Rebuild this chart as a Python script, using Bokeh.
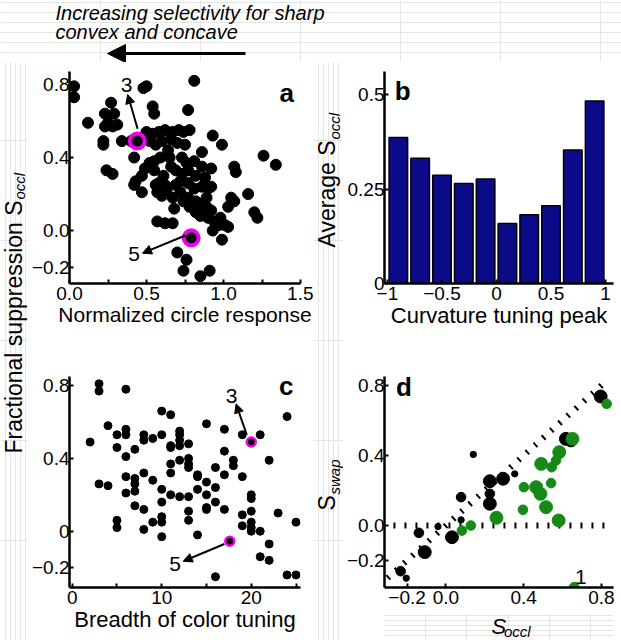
import math
from bokeh.plotting import figure
from bokeh.layouts import row, column
from bokeh.models import Range1d, FixedTicker, Label, Arrow, NormalHead, CustomJSTickFormatter
from bokeh.embed import file_html
from bokeh.resources import INLINE

FONT = "Liberation Sans"
NAVY = "#0b0b8a"
GREEN = "#168a16"
MAGENTA = "#ee00ee"

# ---------------- data ----------------
# panel a: normalized circle response vs S_occl
a_resp = [0.03, 0.03, 0.48, 0.50, 0.81, 0.12, 0.27, 0.23, 0.29, 0.25, 0.31, 0.28, 0.23,
          0.54, 0.55, 0.77, 0.22, 0.22, 0.34, 0.40, 0.50, 0.54, 0.58, 0.62, 0.67, 0.71,
          0.74, 0.78, 0.52, 0.56, 0.60, 0.66, 0.70, 0.75, 0.93, 0.99, 0.42, 0.24, 0.28,
          0.49, 0.47, 0.43, 0.42, 0.52, 0.55, 0.59, 0.65, 0.73, 0.76, 0.81, 0.86, 0.69,
          0.73, 0.77, 0.82, 0.72, 0.92, 1.07, 1.08, 1.26, 1.34, 0.61, 0.58, 0.62, 0.47,
          0.56, 0.57, 0.60, 0.63, 0.67, 0.69, 0.72, 0.74, 0.77, 0.78, 0.84, 0.77, 0.81,
          0.86, 0.90, 0.89, 0.92, 0.82, 0.86, 0.89, 0.92, 0.82, 0.85, 1.05, 1.07, 1.03,
          1.16, 1.20, 1.22, 0.57, 0.62, 0.67, 0.90, 0.94, 0.97, 0.93, 0.99, 0.98, 1.01,
          1.03, 0.70, 0.76, 0.74, 0.85, 0.91, 0.66, 0.55, 0.88, 0.86, 0.64, 0.68]
a_socc = [0.79, 0.73, 0.78, 0.79, 0.82, 0.59, 0.70, 0.64, 0.64, 0.59, 0.58, 0.57, 0.57,
          0.68, 0.64, 0.66, 0.49, 0.47, 0.49, 0.49, 0.54, 0.53, 0.54, 0.55, 0.54, 0.55,
          0.54, 0.55, 0.49, 0.47, 0.49, 0.50, 0.48, 0.47, 0.52, 0.47, 0.40, 0.33, 0.31,
          0.34, 0.30, 0.27, 0.25, 0.37, 0.38, 0.40, 0.40, 0.40, 0.37, 0.38, 0.43, 0.33,
          0.31, 0.33, 0.30, 0.27, 0.34, 0.35, 0.32, 0.41, 0.36, 0.30, 0.26, 0.25, 0.21,
          0.25, 0.21, 0.19, 0.22, 0.18, 0.25, 0.21, 0.16, 0.18, 0.13, 0.09, 0.26, 0.23,
          0.24, 0.23, 0.18, 0.24, 0.16, 0.14, 0.13, 0.11, 0.10, 0.08, 0.18, 0.16, 0.13,
          0.20, 0.10, 0.07, 0.05, 0.04, 0.04, 0.07, 0.05, 0.03, 0.00, -0.05, 0.07, 0.03,
          0.02, -0.12, -0.16, -0.22, -0.25, -0.22, 0.35, 0.33, 0.29, 0.35, 0.44, 0.12]
a_marked_resp = [0.44, 0.79]
a_marked_socc = [0.49, -0.04]
marked_ids = ["3", "5"]

# panel b: average S_occl per curvature-peak bin
b_bin_centers = [-0.9, -0.7, -0.5, -0.3, -0.1, 0.1, 0.3, 0.5, 0.7, 0.9]
b_avg_socc = [0.387, 0.332, 0.287, 0.265, 0.277, 0.159, 0.182, 0.206, 0.354, 0.484]

# panel c: breadth of color tuning vs S_occl
c_breadth = [2, 3, 3, 3, 4, 6, 4, 5, 5, 6, 6, 6, 7, 6, 6, 7, 7, 7, 7, 5, 5, 8, 8, 9, 8,
             8, 8, 9, 9, 10, 11, 10, 10, 10, 10, 10, 10, 11, 11, 11, 11, 11, 12, 12, 12,
             12, 12, 13, 13, 13, 13, 13, 13, 13, 14, 14, 14, 14, 15, 15, 15, 15, 16, 16,
             16, 16, 17, 17, 17, 17, 18, 18, 19, 19, 19, 20, 20, 20, 20, 20, 20, 19, 21,
             21, 22, 22, 21, 22, 23, 24, 25, 24, 25, 15, 12]
c_socc = [0.49, 0.81, 0.77, 0.26, 0.25, 0.78, 0.58, 0.53, 0.46, 0.56, 0.53, 0.41, 0.45,
          0.30, 0.21, 0.29, 0.26, 0.22, 0.14, 0.06, 0.02, 0.53, 0.50, 0.51, 0.32, 0.12,
          0.01, 0.28, 0.05, 0.66, 0.64, 0.53, 0.23, 0.16, 0.08, 0.05, -0.03, 0.47, 0.46,
          0.37, 0.32, 0.20, 0.53, 0.50, 0.47, 0.39, 0.19, 0.48, 0.40, 0.37, 0.35, 0.19,
          0.11, 0.06, 0.31, 0.30, 0.23, -0.02, 0.59, 0.27, 0.20, 0.12, 0.35, 0.24, 0.16,
          -0.25, 0.56, 0.44, 0.31, 0.12, 0.39, 0.36, 0.30, 0.09, 0.03, 0.20, 0.18, 0.11,
          0.05, 0.02, 0.00, 0.53, 0.53, 0.00, 0.39, -0.07, -0.14, -0.16, 0.10, 0.63, 0.05,
          -0.24, -0.24, 0.13, 0.55]
c_marked_breadth = [20, 17.6]
c_marked_socc = [0.49, -0.055]

# panel d: S_occl vs S_swap (size class 1 small .. 3 large)
d_black_occl = [0.796, 0.617, 0.643, 0.141, 0.226, 0.294, 0.354, 0.078, 0.226, 0.226,
                0.078, -0.041, -0.139, 0.031, -0.109, -0.233, -0.204]
d_black_swap = [0.737, 0.495, 0.486, 0.406, 0.253, 0.267, 0.295, 0.162, 0.181, 0.124,
                0.032, -0.006, -0.042, -0.067, -0.152, -0.261, -0.301]
d_black_cls = [3, 3, 3, 1, 3, 3, 1, 2, 2, 3, 1, 1, 2, 3, 3, 2, 1]
d_green_occl = [0.827, 0.651, 0.583, 0.566, 0.544, 0.490, 0.401, 0.464, 0.486, 0.541,
                0.515, 0.396, 0.580, 0.260, 0.128, 0.082, 0.660]
d_green_swap = [0.695, 0.495, 0.419, 0.371, 0.333, 0.352, 0.219, 0.219, 0.181, 0.242,
                0.105, 0.090, 0.029, 0.044, 0.000, -0.029, -0.352]
d_green_cls = [2, 3, 3, 2, 2, 3, 2, 3, 3, 2, 3, 2, 3, 3, 2, 2, 2]
d_diag = [-0.30, 0.83]
d_zero_x = [-0.27, 0.86]
d_zero_y = [0.0, 0.0]

# ---------------- helpers ----------------
fixed1 = CustomJSTickFormatter(code="return tick.toFixed(1).replace('-', '\u2212');")
plain = CustomJSTickFormatter(code="const v = Math.round(tick*100)/100; return String(v).replace('-', '\u2212');")


def panel(width, height, xr, yr, borders):
    p = figure(width=width, height=height, x_range=Range1d(*xr), y_range=Range1d(*yr),
               output_backend="svg", toolbar_location=None, title=None,
               min_border_left=borders[0], min_border_right=borders[1],
               min_border_top=borders[2], min_border_bottom=borders[3])
    p.outline_line_color = None
    p.xgrid.visible = False
    p.ygrid.visible = False
    for ax in p.axis:
        ax.axis_line_width = 2.5
        ax.axis_line_color = "black"
        ax.major_tick_in = 4
        ax.major_tick_out = 0
        ax.major_tick_line_width = 2
        ax.minor_tick_in = 4
        ax.minor_tick_out = 0
        ax.minor_tick_line_width = 2
        ax.major_label_text_font = FONT
        ax.major_label_text_font_size = "19px"
        ax.major_label_text_color = "black"
        ax.axis_label_text_font = FONT
        ax.axis_label_text_font_style = "normal"
        ax.axis_label_text_font_size = "22px"
        ax.axis_label_text_color = "black"
        ax.axis_label_standoff = 0
    p.xaxis.major_label_standoff = 3
    p.yaxis.major_label_standoff = 0
    return p


def blank(width, height):
    p = figure(width=width, height=height, x_range=Range1d(0, width), y_range=Range1d(0, height),
               output_backend="svg", toolbar_location=None, title=None, min_border=0,
               x_axis_location=None, y_axis_location=None)
    p.outline_line_color = None
    return p


def text(p, x, y, s, size="21px", style="normal", align="center", angle=0.0):
    p.add_layout(Label(x=x, y=y, text=s, text_font=FONT, text_font_size=size,
                       text_font_style=style, text_align=align, text_baseline="middle",
                       angle=angle, text_color="black"))


def arrow(p, xs, ys, xe, ye, size=9, width=2):
    p.add_layout(Arrow(end=NormalHead(size=size, fill_color="black", line_color="black", line_width=1),
                       x_start=xs, y_start=ys, x_end=xe, y_end=ye, line_width=width, line_color="black"))


UP = math.pi / 2

# ---------------- top strip (y 0..62) ----------------
top = blank(621, 62)
text(top, 55, 50, "Increasing selectivity for sharp", size="20px", style="italic", align="left")
text(top, 55, 31, "convex and concave", size="20px", style="italic", align="left")
top.add_layout(Arrow(end=NormalHead(size=18, fill_color="black", line_color="black"),
                     x_start=245, y_start=9, x_end=107, y_end=9, line_width=3, line_color="black"))

# ---------------- shared y label (x 0..28, y 62..640) ----------------
lab = blank(28, 578)
text(lab, 13, 187, "Fractional suppression S", size="23px", align="left", angle=UP)
text(lab, 19, 441, "occl", size="15px", style="italic", align="left", angle=UP)

# ---------------- panel a (x 28..313, y 62..340) ----------------
pa = panel(285, 278, (0.0, 1.5), (-0.290, 0.871), (38, 13, 9, 57))
pa.xaxis.ticker = FixedTicker(ticks=[0, 0.5, 1.0, 1.5], minor_ticks=[0.25, 0.75, 1.25])
pa.yaxis.ticker = FixedTicker(ticks=[-0.2, 0.0, 0.4, 0.8], minor_ticks=[])
pa.xaxis.formatter = fixed1
pa.yaxis.formatter = fixed1
pa.xaxis.axis_label = "Normalized circle response"
pa.xaxis.axis_label_text_font_size = "21px"
pa.scatter(a_resp, a_socc, size=11, fill_color="black", line_color="black")
pa.scatter(a_marked_resp, a_marked_socc, size=15, fill_color="black",
           line_color=MAGENTA, line_width=4)
arrow(pa, 0.442, 0.557, 0.378, 0.745)
text(pa, 0.37, 0.795, marked_ids[0])
arrow(pa, 0.752, -0.027, 0.474, -0.124)
text(pa, 0.42, -0.128, marked_ids[1])
text(pa, 1.41, 0.754, "a", size="26px", style="bold")

# ---------------- panel c (x 28..313, y 340..640) ----------------
pc = panel(285, 300, (-0.3, 25.5), (-0.309, 0.85), (38, 13, 36, 53))
pc.xaxis.ticker = FixedTicker(ticks=[0, 10, 20], minor_ticks=[5, 15, 25])
pc.yaxis.ticker = FixedTicker(ticks=[-0.2, 0.0, 0.4, 0.8], minor_ticks=[])
pc.xaxis.formatter = plain
pc.yaxis.formatter = plain
pc.xaxis.axis_label = "Breadth of color tuning"
pc.scatter(c_breadth, c_socc, size=8, fill_color="black", line_color="black")
pc.scatter(c_marked_breadth, c_marked_socc, size=9, fill_color="black",
           line_color=MAGENTA, line_width=2.5)
arrow(pc, 19.5, 0.53, 18.3, 0.70)
text(pc, 17.8, 0.745, marked_ids[0])
arrow(pc, 17.0, -0.07, 12.4, -0.165)
text(pc, 11.5, -0.178, marked_ids[1])
text(pc, 23.9, 0.80, "c", size="26px", style="bold")

# ---------------- y labels of b and d (x 313..343, y 62..640) ----------------
mid = blank(30, 578)
text(mid, 13, 393, "Average S", size="23px", align="left", angle=UP)
text(mid, 21, 501, "occl", size="15px", style="italic", align="left", angle=UP)
text(mid, 13, 130, "S", size="23px", align="left", angle=UP)
text(mid, 21, 146, "swap", size="15px", style="italic", align="left", angle=UP)

# ---------------- panel b (x 343..621, y 62..340) ----------------
pb = panel(278, 278, (-1.027, 1.073), (0.0, 0.562), (39, 8, 9, 57))
pb.xaxis.ticker = FixedTicker(ticks=[-1, -0.5, 0, 0.5, 1], minor_ticks=[])
pb.yaxis.ticker = FixedTicker(ticks=[0, 0.25, 0.5], minor_ticks=[])
pb.xaxis.formatter = plain
pb.yaxis.formatter = plain
pb.xaxis.axis_label = "Curvature tuning peak"
pb.vbar(x=b_bin_centers, top=b_avg_socc, width=0.17, bottom=0,
        fill_color=NAVY, line_color="black", line_width=1.5)
text(pb, -0.86, 0.51, "b", size="26px", style="bold")

# ---------------- panel d (x 343..621, y 340..613) ----------------
pd_ = panel(278, 273, (-0.316, 0.862), (-0.354, 0.851), (39, 8, 36, 26))
pd_.xaxis.ticker = FixedTicker(ticks=[-0.2, 0.0, 0.4, 0.8], minor_ticks=[])
pd_.yaxis.ticker = FixedTicker(ticks=[-0.2, 0.0, 0.4, 0.8], minor_ticks=[])
pd_.xaxis.formatter = fixed1
pd_.yaxis.formatter = fixed1
pd_.line(d_diag, d_diag, line_color="black", line_width=6, line_dash="2 9")
pd_.line(d_zero_x, d_zero_y, line_color="black", line_width=6, line_dash="2 9")
pd_.scatter(d_black_occl, d_black_swap, size=[3 + 3.3 * c for c in d_black_cls],
            fill_color="black", line_color="black")
pd_.scatter(d_green_occl, d_green_swap, size=[3 + 3.3 * c for c in d_green_cls],
            fill_color=GREEN, line_color=GREEN)
text(pd_, 0.694, -0.295, "1")
text(pd_, -0.216, 0.79, "d", size="26px", style="bold")

# x label of d (x 343..621, y 613..640)
sd = blank(278, 27)
text(sd, 130, 14, "S", size="22px", style="italic", align="left")
text(sd, 145, 9, "occl", size="15px", style="italic", align="left")

layout = column(top, row(lab, column(pa, pc), mid, column(pb, pd_, sd)))

with open("out.html", "w", encoding="utf-8") as f:
    f.write(file_html(layout, INLINE))
